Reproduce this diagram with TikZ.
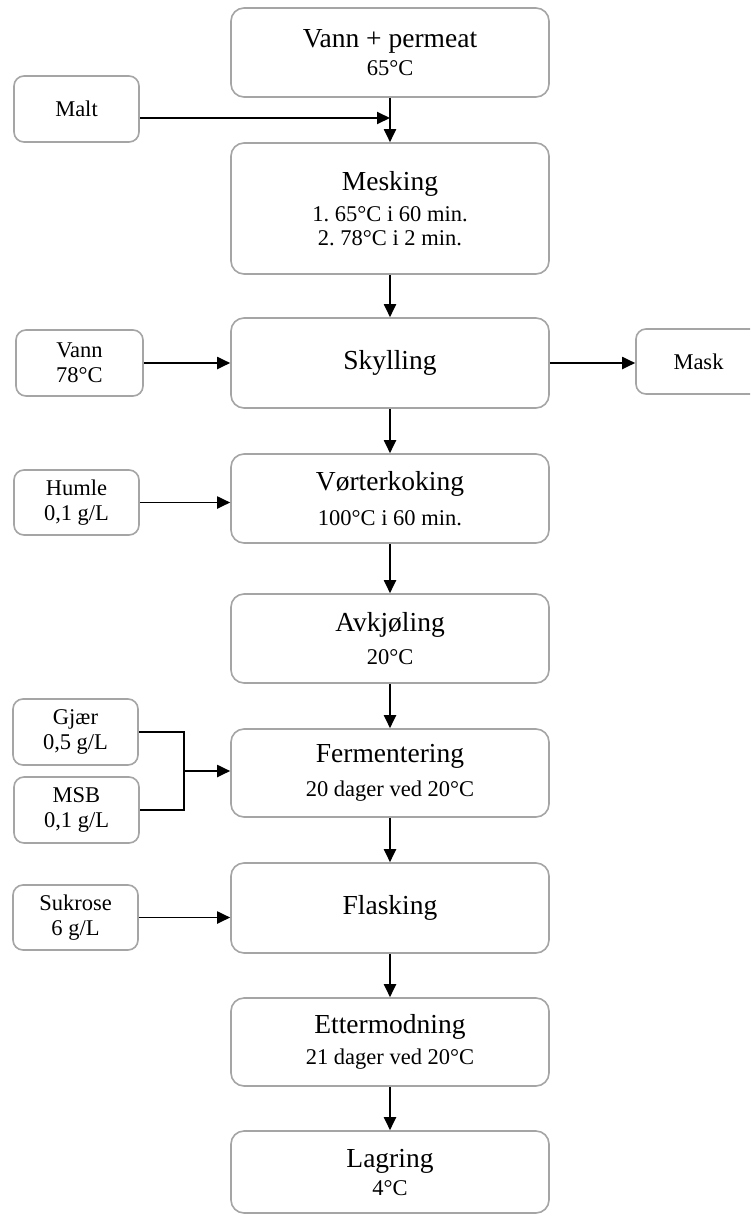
\documentclass[tikz,border=0pt]{standalone}
\usepackage{fontspec}
\setmainfont{Liberation Serif}
\usetikzlibrary{arrows.meta}
\definecolor{boxgray}{RGB}{165,165,165}
\tikzset{
  mainbox/.style={draw=boxgray, line width=1.6pt, rounded corners=13pt, minimum width=318pt, inner sep=0pt, align=center, font=\fontsize{22.5}{24}\selectfont},
  sidebox/.style={draw=boxgray, line width=1.6pt, rounded corners=10pt, minimum width=125pt, minimum height=66pt, inner sep=0pt, align=center, font=\fontsize{22.5}{25}\selectfont},
  arr/.style={line width=1.9pt, -{Triangle[length=13pt,width=12pt]}},
  link/.style={line width=1.9pt},
}
\newcommand{\boxtitle}[1]{{\fontsize{27.5}{31}\selectfont #1}}
\frenchspacing
\begin{document}
\begin{tikzpicture}[x=1pt,y=-1pt]
\useasboundingbox (0,0) rectangle (750,1216);
\clip (0,0) rectangle (750,1216);
\fill[white] (0,0) rectangle (750,1216);
% main column
\node[mainbox, minimum height=89pt]  (top)   at (390,52.5)  {\boxtitle{Vann + permeat}\\[4pt]65°C};
\node[mainbox, minimum height=131pt] (mesk)  at (390,208.5) {\boxtitle{Mesking}\\[7pt]1.~65°C i 60 min.\\2.~78°C i 2 min.};
\node[mainbox, minimum height=90pt]  (skyl)  at (390,363)   {\boxtitle{Skylling}};
\node[mainbox, minimum height=89pt]  (vort)  at (390,498.5) {\boxtitle{Vørterkoking}\\[11pt]100°C i 60 min.};
\node[mainbox, minimum height=89pt]  (avkj)  at (390,638.5) {\boxtitle{Avkjøling}\\[9pt]20°C};
\node[mainbox, minimum height=88pt]  (ferm)  at (390,773)   {\boxtitle{Fermentering}\\[10pt]20 dager ved 20°C};
\node[mainbox, minimum height=90pt]  (flask) at (390,908)   {\boxtitle{Flasking}};
\node[mainbox, minimum height=88pt]  (etter) at (390,1042)  {\boxtitle{Ettermodning}\\[7pt]21 dager ved 20°C};
\node[mainbox, minimum height=82pt]  (lagr)  at (390,1172)  {\boxtitle{Lagring}\\[4pt]4°C};
% side boxes
\node[sidebox] (malt)  at (76.5,109)   {Malt};
\node[sidebox, minimum width=127pt] (vann) at (79.5,363) {Vann\\78°C};
\node[sidebox, minimum height=65pt] (mask) at (698.5,361.5) {Mask};
\node[sidebox, minimum height=65pt] (humle) at (76.5,502.5) {Humle\\0,1 g/L};
\node[sidebox] (gjaer) at (75.5,732)   {Gjær\\0,5 g/L};
\node[sidebox] (msb)   at (76.5,810)   {MSB\\0,1 g/L};
\node[sidebox, minimum height=65pt] (sukr)  at (75.5,917.5) {Sukrose\\6 g/L};
% connectors
\coordinate (mj) at (390,118);
\draw[arr] (top.south) -- (mesk.north);
\draw[arr] (malt.east |- mj) -- (mj);
\draw[arr] (mesk.south) -- (skyl.north);
\draw[arr] (vann.east) -- (vann.east -| skyl.west);
\draw[arr] (skyl.east) -- (skyl.east -| mask.west);
\draw[arr] (skyl.south) -- (vort.north);
\draw[arr] (humle.east) -- (humle.east -| vort.west);
\draw[arr] (vort.south) -- (avkj.north);
\draw[arr] (avkj.south) -- (ferm.north);
\coordinate (mx) at (184,771);
\draw[link] (gjaer.east) -| (mx) |- (msb.east);
\draw[arr] (mx) -- (mx -| ferm.west);
\draw[arr] (ferm.south) -- (flask.north);
\draw[arr] (sukr.east) -- (sukr.east -| flask.west);
\draw[arr] (flask.south) -- (etter.north);
\draw[arr] (etter.south) -- (lagr.north);
\end{tikzpicture}
\end{document}
